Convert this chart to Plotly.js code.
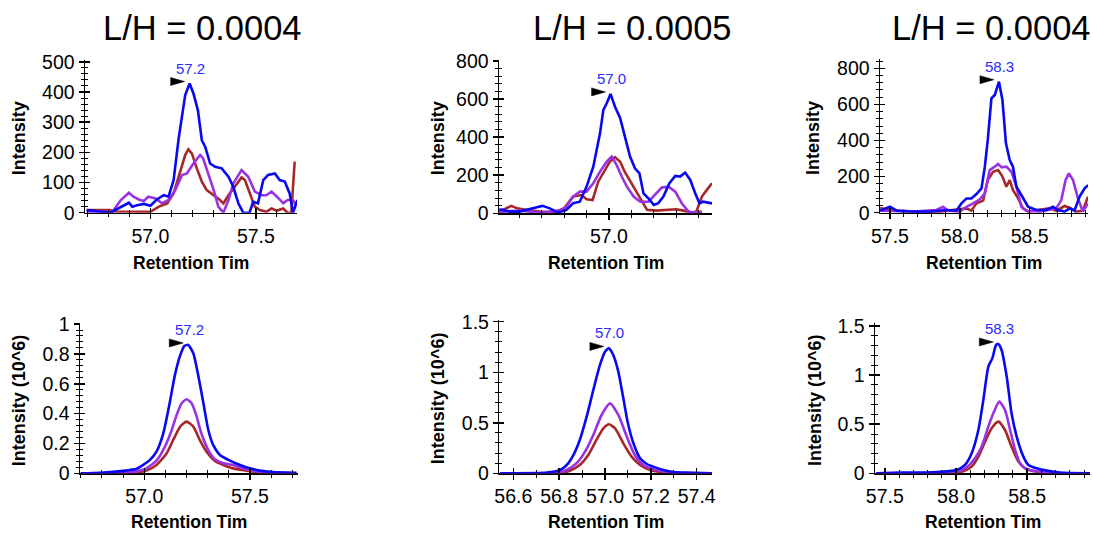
<!DOCTYPE html>
<html><head><meta charset="utf-8">
<script src="https://cdn.plot.ly/plotly-3.0.1.min.js"></script>
<style>html,body{margin:0;padding:0;background:#fff}</style>
</head><body><div id="chart" style="width:1093px;height:533px"></div>
<script>
// ---------- Data (retention time in min, intensity) ----------
const panelTitles = ['L/H = 0.0004', 'L/H = 0.0005', 'L/H = 0.0004'];
const xTitle = 'Retention Tim';
const yTitles = ['Intensity', 'Intensity', 'Intensity', 'Intensity (10^6)', 'Intensity (10^6)', 'Intensity (10^6)'];

// Panel 1 (top-left)
const p1BlueX = [56.698,56.81,56.898,56.914,56.937,56.969,57.0,57.031,57.063,57.086,57.11,57.134,57.165,57.186,57.204,57.225,57.244,57.26,57.283,57.307,57.338,57.37,57.393,57.417,57.44,57.47,57.487,57.51,57.535,57.558,57.59,57.613,57.637,57.66,57.676,57.697];
const p1BlueY = [9,0,33,20,25,29,23,44,58,53,108,246,390,428,395,340,240,218,163,152,147,119,86,31,0,0,36,31,108,125,130,108,103,64,0,42];
const p1RedX = [56.698,56.81,56.827,57.0,57.04,57.08,57.11,57.14,57.165,57.18,57.197,57.22,57.244,57.267,57.3,57.33,57.346,57.37,57.4,57.432,57.448,57.472,57.495,57.519,57.55,57.574,57.6,57.63,57.65,57.668,57.684];
const p1RedY = [9,9,4,3,20,31,64,130,191,210,196,147,103,75,58,42,31,58,86,117,108,64,20,9,3,14,7,14,0,0,169];
const p1PurpleX = [56.698,56.82,56.86,56.898,56.92,56.945,56.969,56.99,57.024,57.055,57.086,57.118,57.15,57.173,57.204,57.236,57.25,57.275,57.3,57.322,57.346,57.37,57.393,57.432,57.464,57.495,57.527,57.55,57.574,57.6,57.63,57.65,57.676,57.69];
const p1PurpleY = [3,3,42,66,53,44,39,53,47,31,42,75,125,130,163,191,180,130,75,20,0,42,97,141,119,70,58,58,70,53,31,42,42,25];

// Panel 2 (top-middle)
const p2BlueX = [56.51,56.527,56.557,56.6,56.66,56.703,56.736,56.773,56.81,56.84,56.87,56.9,56.93,56.96,56.975,56.99,57.007,57.027,57.05,57.07,57.094,57.116,57.136,57.154,57.176,57.2,57.22,57.243,57.27,57.296,57.318,57.34,57.363,57.385,57.404,57.42,57.46];
const p2BlueY = [20,18,9,9,26,39,26,4,18,53,61,140,245,420,543,578,627,560,499,403,298,236,210,105,79,44,53,88,158,196,193,214,175,105,53,61,52];
const p2RedX = [56.51,56.527,56.564,56.59,56.63,56.69,56.75,56.8,56.84,56.878,56.9,56.927,56.952,56.982,57.004,57.027,57.05,57.07,57.1,57.124,57.146,57.17,57.21,57.26,57.3,57.333,57.37,57.39,57.415,57.437,57.46];
const p2RedY = [12,18,39,26,18,9,4,26,88,96,74,70,166,228,271,294,271,219,158,114,70,18,14,18,21,14,4,9,88,123,158];
const p2PurpleX = [56.51,56.527,56.6,56.69,56.78,56.81,56.84,56.87,56.9,56.93,56.96,56.99,57.012,57.034,57.057,57.08,57.11,57.14,57.176,57.206,57.236,57.266,57.296,57.325,57.355,57.378,57.415];
const p2PurpleY = [9,9,14,4,14,35,88,114,114,158,219,271,298,254,193,140,88,61,61,96,135,140,114,53,9,4,9];

// Panel 3 (top-right)
const p3BlueX = [57.43,57.44,57.5,57.548,57.667,57.786,57.905,57.976,58.012,58.048,58.083,58.119,58.155,58.179,58.2,58.226,58.25,58.28,58.305,58.33,58.357,58.38,58.405,58.44,58.488,58.548,58.62,58.667,58.7,58.75,58.786,58.82,58.857,58.893,58.917];
const p3BlueY = [12,15,33,11,6,6,15,11,52,79,79,103,135,255,403,634,652,726,624,384,292,255,144,98,33,15,15,33,15,6,24,11,89,135,153];
const p3RedX = [57.43,57.44,57.5,57.667,57.857,57.976,58.048,58.083,58.119,58.167,58.2,58.238,58.274,58.305,58.333,58.357,58.38,58.417,58.452,58.488,58.57,58.64,58.69,58.75,58.786,58.833,58.88,58.917];
const p3RedY = [24,24,15,6,6,18,24,11,52,67,181,227,236,200,144,181,126,79,24,6,15,24,11,37,28,6,11,89];
const p3PurpleX = [57.43,57.44,57.667,57.833,57.88,57.917,58.0,58.048,58.095,58.143,58.179,58.214,58.25,58.274,58.3,58.333,58.369,58.405,58.44,58.476,58.57,58.64,58.69,58.726,58.757,58.78,58.81,58.845,58.88,58.917];
const p3PurpleY = [11,11,6,15,33,11,6,33,52,74,107,236,255,270,251,255,227,144,33,11,6,15,24,70,181,218,181,79,6,52];

// Panel 4 (bottom-left), intensity in 10^6
const p4BlueX = [56.7,56.79,56.9,56.964,56.995,57.027,57.058,57.09,57.12,57.145,57.17,57.19,57.208,57.232,57.255,57.28,57.303,57.326,57.358,57.405,57.453,57.5,57.547,57.61,57.72];
const p4BlueY = [0.0,0.004,0.016,0.03,0.056,0.09,0.145,0.268,0.469,0.658,0.79,0.853,0.86,0.804,0.658,0.469,0.29,0.19,0.123,0.085,0.056,0.033,0.018,0.009,0.004];
const p4PurpleX = [56.7,56.9,56.964,57.01,57.058,57.098,57.13,57.153,57.177,57.2,57.224,57.248,57.27,57.303,57.334,57.374,57.42,57.468,57.516,57.58,57.72];
const p4PurpleY = [0.0,0.004,0.013,0.033,0.085,0.179,0.29,0.39,0.469,0.496,0.469,0.38,0.268,0.156,0.094,0.067,0.056,0.033,0.016,0.004,0.0];
const p4RedX = [56.7,56.964,57.01,57.058,57.106,57.137,57.17,57.2,57.232,57.263,57.295,57.334,57.374,57.42,57.484,57.547,57.72];
const p4RedY = [0.0,0.004,0.018,0.056,0.134,0.223,0.313,0.346,0.313,0.223,0.145,0.083,0.056,0.033,0.018,0.004,0.0];

// Panel 5 (bottom-middle)
const p5BlueX = [56.542,56.745,56.804,56.833,56.862,56.89,56.92,56.949,56.978,57.0,57.017,57.036,57.058,57.08,57.1,57.124,57.153,57.182,57.21,57.255,57.298,57.356,57.465];
const p5BlueY = [0.0,0.007,0.033,0.082,0.181,0.33,0.56,0.824,1.072,1.203,1.236,1.17,1.006,0.742,0.495,0.297,0.148,0.092,0.066,0.033,0.013,0.007,0.0];
const p5PurpleX = [56.542,56.79,56.833,56.876,56.913,56.949,56.985,57.022,57.058,57.095,57.13,57.167,57.21,57.27,57.342,57.465];
const p5PurpleY = [0.0,0.003,0.033,0.099,0.214,0.379,0.577,0.692,0.577,0.363,0.181,0.082,0.04,0.013,0.003,0.0];
const p5RedX = [56.542,56.804,56.847,56.89,56.927,56.964,56.993,57.017,57.044,57.08,57.116,57.153,57.196,57.255,57.34,57.465];
const p5RedY = [0.0,0.003,0.026,0.082,0.181,0.336,0.445,0.485,0.445,0.297,0.165,0.082,0.033,0.01,0.0,0.0];

// Panel 6 (bottom-right)
const p6BlueX = [57.44,57.607,57.794,57.934,58.005,58.063,58.11,58.157,58.192,58.227,58.255,58.281,58.297,58.32,58.356,58.39,58.426,58.473,58.508,58.567,58.637,58.73,58.94];
const p6BlueY = [0.0,0.007,0.007,0.02,0.034,0.085,0.204,0.441,0.747,1.086,1.171,1.306,1.317,1.256,0.984,0.611,0.373,0.17,0.085,0.051,0.027,0.007,0.0];
const p6PurpleX = [57.44,57.934,58.028,58.087,58.133,58.18,58.227,58.262,58.304,58.344,58.38,58.415,58.45,58.497,58.59,58.684,58.94];
const p6PurpleY = [0.0,0.007,0.027,0.075,0.153,0.271,0.475,0.611,0.73,0.645,0.441,0.238,0.102,0.041,0.017,0.003,0.0];
const p6RedX = [57.44,58.005,58.052,58.11,58.157,58.204,58.25,58.297,58.344,58.39,58.438,58.485,58.567,58.684,58.94];
const p6RedY = [0.0,0.007,0.02,0.068,0.17,0.322,0.458,0.526,0.441,0.271,0.119,0.051,0.017,0.003,0.0];

const seriesByPanel = [
  {red:[p1RedX,p1RedY], purple:[p1PurpleX,p1PurpleY], blue:[p1BlueX,p1BlueY]},
  {red:[p2RedX,p2RedY], purple:[p2PurpleX,p2PurpleY], blue:[p2BlueX,p2BlueY]},
  {red:[p3RedX,p3RedY], purple:[p3PurpleX,p3PurpleY], blue:[p3BlueX,p3BlueY]},
  {red:[p4RedX,p4RedY], purple:[p4PurpleX,p4PurpleY], blue:[p4BlueX,p4BlueY]},
  {red:[p5RedX,p5RedY], purple:[p5PurpleX,p5PurpleY], blue:[p5BlueX,p5BlueY]},
  {red:[p6RedX,p6RedY], purple:[p6PurpleX,p6PurpleY], blue:[p6BlueX,p6BlueY]}
];

// ---------- Layout / style ----------
const W = 1093, H = 533;
const FONT = 'Liberation Sans, Arial, Helvetica, sans-serif';
const colors = {red:'#a8282a', purple:'#9a32e4', blue:'#0808f4'};
// plot boxes in pixels: [left, right, top, bottom]
const boxes = [[85,297,60,212.7],[499,712,60,213.3],[880,1088,59.3,212.7],
               [80,297.7,323.3,473.3],[499.3,712.3,320,473.3],[875,1090,322.7,473.3]];
const xRanges = [[56.69,57.695],[56.509,57.46],[57.429,58.917],[56.696,57.726],[56.539,57.468],[57.431,58.941]];
const yRanges = [[0,506],[0,805],[0,850],[0,1.005],[0,1.517],[0,1.534]];
const xDtick = [0.5,0.5,0.5,0.5,0.2,0.5];
const yDtick = [100,200,200,0.2,0.5,0.5];
const yMinor = [20,40,40,0.04,0.1,0.1];
const yTitleX = [19,437.5,813,19,437.5,815];
const titleCenters = [202,632,991];

const traces = [];
const layout = {
  width: W, height: H, margin:{l:0,r:0,t:0,b:0},
  paper_bgcolor:'#fff', plot_bgcolor:'#fff', showlegend:false,
  font:{family:FONT, color:'#000'},
  annotations: [], shapes: []
};
const px = v => v / W, py = v => 1 - v / H;

for (let i = 0; i < 6; i++) {
  const n = i + 1, m = i + 7;
  const b = boxes[i];
  const xa = 'xaxis' + n, ya = 'yaxis' + n;
  const common = {showgrid:false, zeroline:false, showline:true, linecolor:'#000', linewidth:1.5,
                  ticks:'outside', ticklen:5, tickwidth:1.5, tickcolor:'#000', layer:'below traces',
                  tickfont:{family:FONT, size:19.5, color:'#000'}, fixedrange:true};
  layout[xa] = Object.assign({}, common, {domain:[px(b[0]), px(b[1])], range:xRanges[i], anchor:'y'+n,
      dtick:xDtick[i], tick0:0, tickformat:'.1f',
      minor:{dtick:0.1, ticks:'outside', ticklen:3, tickwidth:1, tickcolor:'#000'}});
  layout[ya] = Object.assign({}, common, {domain:[py(b[3]), py(b[2])], range:yRanges[i], anchor:'x'+n,
      dtick:yDtick[i], tick0:0,
      minor:{dtick:yMinor[i], ticks:'outside', ticklen:3, tickwidth:1, tickcolor:'#000'}});
  // overlay axes to draw the inner half of the crossing ticks
  const inner = {showgrid:false, zeroline:false, showline:false, showticklabels:false,
                 ticks:'inside', ticklen:5, tickwidth:1.5, tickcolor:'#000', fixedrange:true};
  layout['xaxis' + m] = Object.assign({}, inner, {overlaying:'x'+n, anchor:'y'+n, range:xRanges[i],
      dtick:xDtick[i], tick0:0, minor:{dtick:0.1, ticks:'inside', ticklen:3, tickwidth:1, tickcolor:'#000'}});
  layout['yaxis' + m] = Object.assign({}, inner, {overlaying:'y'+n, anchor:'x'+n, range:yRanges[i],
      dtick:yDtick[i], tick0:0, minor:{dtick:yMinor[i], ticks:'inside', ticklen:3, tickwidth:1, tickcolor:'#000'}});
  traces.push({x:[], y:[], xaxis:'x'+m, yaxis:'y'+n, type:'scatter', mode:'lines', hoverinfo:'skip', showlegend:false});
  traces.push({x:[], y:[], xaxis:'x'+n, yaxis:'y'+m, type:'scatter', mode:'lines', hoverinfo:'skip', showlegend:false});

  const s = seriesByPanel[i];
  const smooth = i >= 3;
  ['red','purple','blue'].forEach(k => {
    traces.push({x:s[k][0], y:s[k][1], xaxis:'x'+n, yaxis:'y'+n, type:'scatter', mode:'lines',
      line:{color:colors[k], width:2.6, shape: smooth ? 'spline' : 'linear', smoothing:0.6},
      hoverinfo:'skip', showlegend:false});
  });

  // peak of the blue trace: label above, black pointer to the left
  const bx = s.blue[0], by = s.blue[1];
  let im = 0; by.forEach((v, j) => { if (v > by[im]) im = j; });
  layout.annotations.push({xref:'x'+n, yref:'y'+n, x:bx[im], y:by[im], text:bx[im].toFixed(1),
    showarrow:false, xanchor:'center', yanchor:'bottom', yshift:5, xshift:1,
    font:{family:FONT, size:15, color:'#2a2aff'}});
  layout.shapes.push({type:'path', xref:'x'+n, yref:'y'+n, xsizemode:'pixel', ysizemode:'pixel',
    xanchor:bx[im], yanchor:by[im], path:'M -19 6 L -5 2 L -19 -2 Z',
    fillcolor:'#000', line:{color:'#000', width:0.5}});

  // axis titles
  layout.annotations.push({xref:'paper', yref:'paper', x:px((b[0]+b[1])/2), y:py(i < 3 ? 263 : 522),
    text:'<b>' + xTitle + '</b>', showarrow:false, xanchor:'center', yanchor:'middle',
    font:{family:FONT, size:17.5, color:'#000'}});
  layout.annotations.push({xref:'paper', yref:'paper', x:px(yTitleX[i]), y:py((b[2]+b[3])/2 + 2),
    text:'<b>' + yTitles[i] + '</b>', showarrow:false, textangle:-90, xanchor:'center', yanchor:'middle',
    font:{family:FONT, size:18, color:'#000'}});
}
panelTitles.forEach((t, j) => {
  layout.annotations.push({xref:'paper', yref:'paper', x:px(titleCenters[j]), y:py(28), text:t,
    showarrow:false, xanchor:'center', yanchor:'middle', font:{family:FONT, size:34.5, color:'#000'}});
});

Plotly.newPlot('chart', traces, layout, {staticPlot:true, displayModeBar:false});
</script>
</body></html>
